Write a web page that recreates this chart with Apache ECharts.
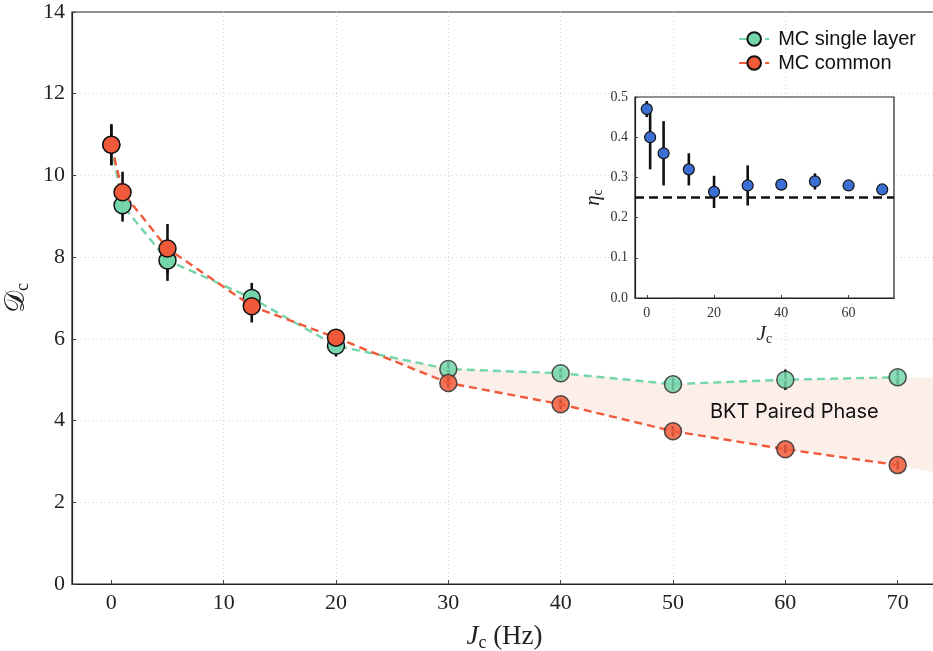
<!DOCTYPE html>
<html>
<head>
<meta charset="utf-8">
<script src="https://cdn.jsdelivr.net/npm/echarts@6/dist/echarts.min.js"></script>
<style>
  html, body { margin: 0; padding: 0; background: #fff; }
  #chart { width: 933px; height: 651px; }
</style>
</head>
<body>
<div id="chart"></div>
<script>
// Coupling strengths J_c (Hz)
const couplings = [0, 1, 5, 12.5, 20, 30, 40, 50, 60, 70];

// Critical D_c, single-layer Monte Carlo
const singleLayer = [10.75, 9.27, 7.92, 7.0, 5.83, 5.26, 5.16, 4.89, 5.0, 5.06];
const singleLayerErr = [0.5, 0.4, 0.5, 0.37, 0.26, 0.17, 0.12, 0.15, 0.25, 0.18];

// Critical D_c, common Monte Carlo
const common = [10.75, 9.59, 8.21, 6.8, 6.03, 4.92, 4.4, 3.74, 3.3, 2.91];
const commonErr = [0.5, 0.5, 0.6, 0.4, 0.2, 0.12, 0.12, 0.12, 0.1, 0.1];

// Shaded band between the two curves (BKT paired phase)
const bandX = [23.7, 30, 40, 50, 60, 70, 73.5];
const bandUpper = [5.61, 5.26, 5.16, 4.89, 5.0, 5.06, 5.05];
const bandLower = [5.61, 4.92, 4.4, 3.74, 3.3, 2.91, 2.72];

// Inset: exponent eta_c
const eta = [0.47, 0.40, 0.36, 0.32, 0.264, 0.28, 0.282, 0.29, 0.28, 0.27];
const etaErr = [0.02, 0.08, 0.08, 0.04, 0.04, 0.05, 0.005, 0.02, 0.005, 0.005];
const etaReference = 0.25;

const mainTicksX = [0, 10, 20, 30, 40, 50, 60, 70];
const insetTicksX = [0, 20, 40, 60];

const bandLabel = { x: 60.8, y: 4.2, text: 'BKT Paired Phase' };

const GREEN = '#74d6aa';
const RED = '#f05a3a';
const BLUE = '#3b6fd4';
const SERIF = '"Liberation Serif", "DejaVu Serif", serif';
const SANS = '"Liberation Sans", Arial, sans-serif';
const GRID_LINE = {
  show: true, showMinLine: false, showMaxLine: false,
  lineStyle: { color: '#d6d6d6', type: [1, 3], width: 1 }
};

const chart = echarts.init(document.getElementById('chart'), null, { renderer: 'canvas' });

function errorBars(values, errs) {
  return couplings.map((x, i) => [x, values[i] - errs[i], values[i] + errs[i]]);
}

function renderErrorBar(params, api) {
  const x = api.value(0);
  const p1 = api.coord([x, api.value(1)]);
  const p2 = api.coord([x, api.value(2)]);
  return {
    type: 'line',
    shape: { x1: p1[0], y1: p1[1], x2: p2[0], y2: p2[1] },
    style: { stroke: '#111', lineWidth: 2.6 }
  };
}

// markers beyond J_c = 30 are drawn slightly translucent
function points(values, lateOpacity) {
  return couplings.map((x, i) => ({
    value: [x, values[i]],
    itemStyle: x >= 30 ? { opacity: lateOpacity, borderColor: '#333' } : undefined
  }));
}

const option = {
  animation: false,
  backgroundColor: '#fff',
  grid: [
    { left: 72, top: 12, right: -4, bottom: 67, outerBoundsMode: 'none', containLabel: false,
      show: true, borderColor: '#222', borderWidth: 1.2, backgroundColor: 'transparent' },
    { left: 635, top: 97, width: 259, height: 201, outerBoundsMode: 'none', containLabel: false,
      show: true, borderColor: '#222', borderWidth: 1.2, backgroundColor: '#fff', z: 10 }
  ],
  xAxis: [
    {
      type: 'value', gridIndex: 0, min: -3.5, max: 73.5,
      axisLine: { show: true, onZero: false, lineStyle: { color: '#222', width: 1.2 } },
      axisTick: { show: true, inside: true, length: 4, customValues: mainTicksX, lineStyle: { color: '#444' } },
      axisLabel: { customValues: mainTicksX, color: '#222', fontFamily: SERIF, fontSize: 22, margin: 8 },
      splitLine: GRID_LINE,
      name: '{j|J}{s|c}{h| (Hz)}', nameLocation: 'middle', nameGap: 38,
      nameTextStyle: {
        rich: {
          j: { fontFamily: SERIF, fontStyle: 'italic', fontSize: 27, color: '#222' },
          s: { fontFamily: SERIF, fontSize: 18, color: '#222', padding: [12, 0, 0, 0] },
          h: { fontFamily: SERIF, fontSize: 27, color: '#222' }
        }
      }
    },
    {
      type: 'value', gridIndex: 1, min: -3.5, max: 73.5, z: 11,
      axisLine: { show: true, onZero: false, lineStyle: { color: '#222', width: 1.2 } },
      axisTick: { show: true, inside: true, length: 3, customValues: insetTicksX, lineStyle: { color: '#444' } },
      axisLabel: { customValues: insetTicksX, color: '#333', fontFamily: SERIF, fontSize: 14, margin: 8 },
      splitLine: { show: false },
      name: '{j|J}{s|c}', nameLocation: 'middle', nameGap: 24,
      nameTextStyle: {
        rich: {
          j: { fontFamily: SERIF, fontStyle: 'italic', fontSize: 21, color: '#222' },
          s: { fontFamily: SERIF, fontSize: 14, color: '#222', padding: [10, 0, 0, 0] }
        }
      }
    }
  ],
  yAxis: [
    {
      type: 'value', gridIndex: 0, min: 0, max: 14, interval: 2,
      axisLine: { show: true, onZero: false, lineStyle: { color: '#222', width: 1.2 } },
      axisTick: { show: true, inside: true, length: 4, lineStyle: { color: '#444' } },
      axisLabel: { color: '#222', fontFamily: SERIF, fontSize: 22, margin: 7 },
      splitLine: GRID_LINE,
      name: '{d|𝒟}{s|c}', nameLocation: 'middle', nameGap: 38, nameRotate: 90,
      nameTextStyle: {
        rich: {
          d: { fontFamily: '"DejaVu Sans", "DejaVu Serif", serif', fontSize: 28, color: '#222' },
          s: { fontFamily: SERIF, fontSize: 18, color: '#222', padding: [12, 0, 0, 0] }
        }
      }
    },
    {
      type: 'value', gridIndex: 1, min: 0, max: 0.5, interval: 0.1, z: 11,
      axisLine: { show: true, onZero: false, lineStyle: { color: '#222', width: 1.2 } },
      axisTick: { show: true, inside: true, length: 3, lineStyle: { color: '#444' } },
      axisLabel: { color: '#333', fontFamily: SERIF, fontSize: 14, margin: 7, formatter: v => v.toFixed(1) },
      splitLine: { show: false },
      name: '{e|η}{s|c}', nameLocation: 'middle', nameGap: 30, nameRotate: 90,
      nameTextStyle: {
        rich: {
          e: { fontFamily: SERIF, fontStyle: 'italic', fontSize: 21, color: '#222' },
          s: { fontFamily: SERIF, fontSize: 14, color: '#222', padding: [10, 0, 0, 0] }
        }
      }
    }
  ],
  legend: {
    right: 12, top: 24, orient: 'vertical', itemGap: 4, itemWidth: 30, itemHeight: 17,
    data: ['MC single layer', 'MC common'],
    textStyle: { fontFamily: SANS, fontSize: 20, color: '#111', padding: [0, 0, 0, 4] }
  },
  series: [
    {
      type: 'custom', xAxisIndex: 0, yAxisIndex: 0, z: 1, silent: true,
      data: [[bandX[0], bandLower[0]]],
      renderItem: (params, api) => {
        const pts = [];
        bandX.forEach((x, i) => pts.push(api.coord([x, bandUpper[i]])));
        for (let i = bandX.length - 1; i >= 0; i--) pts.push(api.coord([bandX[i], bandLower[i]]));
        return { type: 'polygon', shape: { points: pts }, style: { fill: '#fcefea' } };
      }
    },
    {
      type: 'scatter', xAxisIndex: 0, yAxisIndex: 0, symbolSize: 1, z: 2, silent: true,
      itemStyle: { opacity: 0 },
      data: [[bandLabel.x, bandLabel.y]],
      label: { show: true, position: 'inside', formatter: bandLabel.text, fontFamily: 'Inter, "Liberation Sans", sans-serif', fontSize: 20, color: '#111', opacity: 1 }
    },
    {
      type: 'custom', xAxisIndex: 0, yAxisIndex: 0, z: 2, silent: true,
      encode: { x: 0, y: [1, 2] },
      data: errorBars(singleLayer, singleLayerErr), renderItem: renderErrorBar
    },
    {
      type: 'custom', xAxisIndex: 0, yAxisIndex: 0, z: 2, silent: true,
      encode: { x: 0, y: [1, 2] },
      data: errorBars(common, commonErr), renderItem: renderErrorBar
    },
    {
      name: 'MC single layer', type: 'line', xAxisIndex: 0, yAxisIndex: 0, z: 3,
      data: points(singleLayer, 0.85),
      symbol: 'circle', symbolSize: 17,
      lineStyle: { color: GREEN, width: 2.4, type: [8, 5] },
      itemStyle: { color: GREEN, borderColor: '#111', borderWidth: 1.5 }
    },
    {
      name: 'MC common', type: 'line', xAxisIndex: 0, yAxisIndex: 0, z: 4,
      data: points(common, 0.85),
      symbol: 'circle', symbolSize: 17,
      lineStyle: { color: RED, width: 2.4, type: [8, 5] },
      itemStyle: { color: RED, borderColor: '#111', borderWidth: 1.5 }
    },
    {
      type: 'custom', xAxisIndex: 1, yAxisIndex: 1, z: 12, silent: true,
      encode: { x: 0, y: [1, 2] },
      data: couplings.map((x, i) => [x, eta[i] - etaErr[i], eta[i] + etaErr[i]]),
      renderItem: renderErrorBar
    },
    {
      type: 'line', xAxisIndex: 1, yAxisIndex: 1, z: 12, silent: true, symbol: 'none',
      data: [[-3.5, etaReference], [73.5, etaReference]],
      lineStyle: { color: '#111', width: 2.6, type: [9, 5] }
    },
    {
      type: 'scatter', xAxisIndex: 1, yAxisIndex: 1, z: 13, silent: true,
      data: couplings.map((x, i) => [x, eta[i]]),
      symbol: 'circle', symbolSize: 11,
      itemStyle: { color: BLUE, borderColor: '#111', borderWidth: 1.2, opacity: 1 }
    }
  ]
};

chart.setOption(option);
</script>
</body>
</html>
